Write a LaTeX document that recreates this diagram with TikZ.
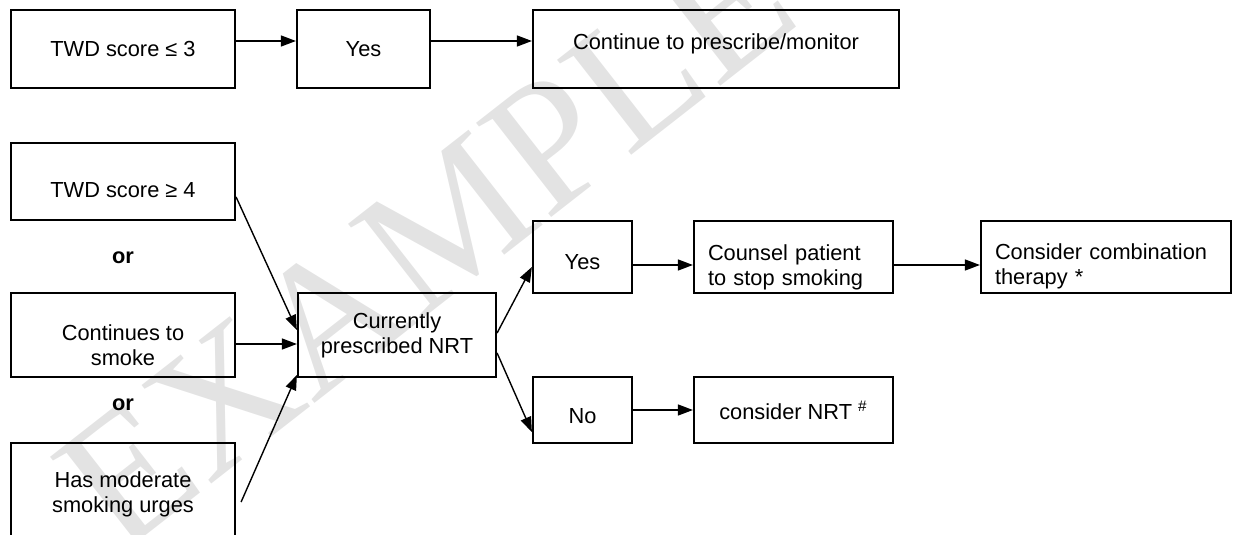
\documentclass[tikz,border=0pt]{standalone}
\usepackage{fontspec}
\setmainfont{Liberation Sans}
\newfontfamily\markfont{Liberation Serif}
\usetikzlibrary{arrows.meta}

\begin{document}
\begin{tikzpicture}[x=0.5pt,y=-0.5pt,
	box/.style={draw,line width=1.1pt,inner sep=0pt,align=center,font=\fontsize{10.9}{12.5}\selectfont},
	lbox/.style={box,align=left,inner xsep=7pt},
	sink/.style={text height=#1,text depth=0pt},
	ortext/.style={font=\fontsize{10.9}{12.5}\selectfont\bfseries},
	arr/.style={-{Triangle[length=7.5pt,width=5.5pt]},line width=0.7pt}]
	\useasboundingbox (0,0) rectangle (1233,535);
	\clip (0,0) rectangle (1233,535);
	\node [rotate=38,text=black!11,font=\markfont\fontsize{92}{92}\selectfont] (mark) at (425,240) {EXAMPLE};
	\node [box,minimum width=112pt,minimum height=39pt] (twdlow) at (123,49) {TWD score ≤ 3};
	\node [box,minimum width=66.5pt,minimum height=39pt] (yestop) at (363.5,49) {Yes};
	\node [box,minimum width=183pt,minimum height=39pt,text height=8pt,text depth=7.2pt] (cont) at (716,49) {Continue to prescribe/monitor};
	\node [box,minimum width=112pt,minimum height=38.5pt,sink=15.8pt] (twdhigh) at (123,181.5) {TWD score ≥ 4};
	\node [ortext] (or1) at (123,258) {or};
	\node [box,minimum width=112pt,minimum height=42pt,sink=30.8pt] (smoke) at (123,335) {Continues to\\smoke};
	\node [ortext] (or2) at (123,405) {or};
	\node [box,minimum width=112pt,minimum height=51.5pt] (moderate) at (123,494.5) {Has moderate\\smoking urges};
	\node [box,minimum width=99pt,minimum height=42pt] (current) at (397,335) {Currently\\prescribed NRT};
	\node [box,minimum width=49.5pt,minimum height=36pt,sink=12.8pt] (yesmid) at (582.5,257) {Yes};
	\node [box,minimum width=49.5pt,minimum height=33pt,sink=13.8pt] (no) at (582.5,410) {No};
	\node [lbox,minimum width=99.5pt,minimum height=36pt,text width=85.5pt,sink=3.8pt] (counsel) at (793.5,257) {Counsel patient\\to stop smoking};
	\node [box,minimum width=99.5pt,minimum height=33pt] (consider) at (793.5,410) {consider NRT~\textsuperscript{\#}};
	\node [lbox,minimum width=125pt,minimum height=36pt,text width=111pt,sink=2.8pt] (combo) at (1106,257) {Consider combination\\therapy *};
	\draw [arr] ([yshift=4pt]twdlow.east) -- ([yshift=4pt]yestop.west);
	\draw [arr] ([yshift=4pt]yestop.east) -- ([yshift=4pt]cont.west);
	\draw [arr] ([yshift=-7.75pt]twdhigh.east) -- ([yshift=2.5pt]current.west);
	\draw [arr] ([yshift=-4.5pt]smoke.east) -- ([yshift=-4.5pt]current.west);
	\draw [arr] ([xshift=2.5pt,yshift=-3.75pt]moderate.east) -- ([yshift=-20pt]current.west);
	\draw [arr] ([yshift=1pt]current.east) -- ([yshift=-5pt]yesmid.west);
	\draw [arr] ([yshift=-9pt]current.east) -- ([yshift=-11pt]no.west);
	\draw [arr] ([yshift=-4pt]yesmid.east) -- ([yshift=-4pt]counsel.west);
	\draw [arr] ([yshift=-4pt]counsel.east) -- ([yshift=-4pt]combo.west);
	\draw [arr] (no) -- (consider);
\end{tikzpicture}
\end{document}
